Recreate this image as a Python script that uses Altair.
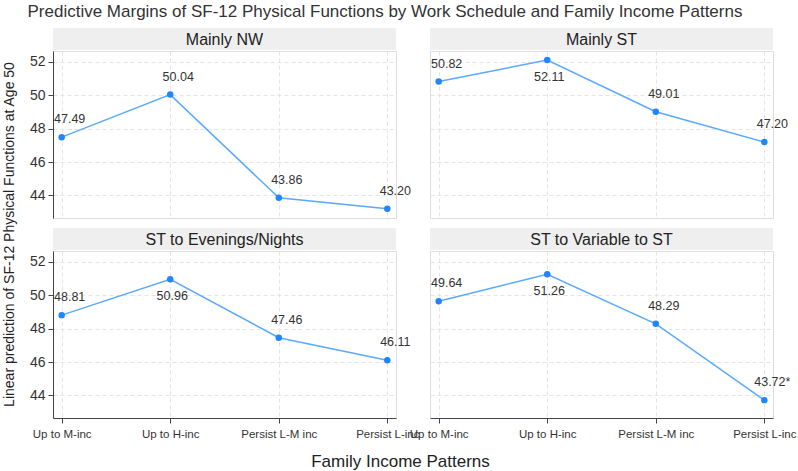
import altair as alt
import pandas as pd

schedules = ["Mainly NW", "Mainly ST", "ST to Evenings/Nights", "ST to Variable to ST"]
categories = ["Up to M-inc", "Up to H-inc", "Persist L-M inc", "Persist L-inc"]
values = {
    "Mainly NW": [47.49, 50.04, 43.86, 43.20],
    "Mainly ST": [50.82, 52.11, 49.01, 47.20],
    "ST to Evenings/Nights": [48.81, 50.96, 47.46, 46.11],
    "ST to Variable to ST": [49.64, 51.26, 48.29, 43.72],
}
significant = {
    "Mainly NW": [False, False, False, False],
    "Mainly ST": [False, False, False, False],
    "ST to Evenings/Nights": [False, False, False, False],
    "ST to Variable to ST": [False, False, False, True],
}
label_side = {
    "Mainly NW": ["above", "above", "above", "above"],
    "Mainly ST": ["above", "below", "above", "above"],
    "ST to Evenings/Nights": ["above", "below", "above", "above"],
    "ST to Variable to ST": ["above", "below", "above", "above"],
}
y_ticks = [44, 46, 48, 50, 52]

rows = []
for s in schedules:
    for i, c in enumerate(categories):
        v = values[s][i]
        rows.append({
            "schedule": s,
            "category": c,
            "value": v,
            "label": f"{v:.2f}" + ("*" if significant[s][i] else ""),
            "side": label_side[s][i],
        })
df = pd.DataFrame(rows)

FONT = "Liberation Sans"
W, H = 343, 167
GRID = dict(grid=True, gridDash=[4, 3], gridColor="#e4e4e4")
AXC = "#444"


def panel(name, show_x, show_y, y_title=False, x_title=False):
    if show_x:
        xa = alt.Axis(title="Family Income Patterns" if x_title else None,
                      titleFontSize=17, titleFontWeight="normal", titleColor="#222",
                      titleX=347, titleY=43, titleBaseline="middle",
                      labelAngle=0, labelFontSize=11.5, labelColor="#333",
                      labelPadding=5, tickSize=5, domainColor=AXC, tickColor=AXC,
                      labelOverlap=False, **GRID)
    else:
        xa = alt.Axis(title=None, labels=False, ticks=False, domain=False, **GRID)
    if show_y:
        ya = alt.Axis(title="Linear prediction of SF-12 Physical Functions at Age 50" if y_title else None,
                      titleFontSize=14, titleFontWeight="normal", titleColor="#222",
                      titleX=-44, titleY=183, titleAngle=-90, titleBaseline="middle",
                      values=y_ticks, labelFontSize=14, labelColor="#333",
                      tickSize=5, labelPadding=3, domainColor=AXC, tickColor=AXC, **GRID)
    else:
        ya = alt.Axis(title=None, labels=False, ticks=False, domain=False,
                      values=y_ticks, **GRID)
    x_enc = alt.X("category:N", sort=categories,
                  scale=alt.Scale(type="point", padding=0.08), axis=xa)
    y_enc = alt.Y("value:Q", scale=alt.Scale(domain=[42.65, 52.65], nice=False, zero=False),
                  axis=ya)
    base = alt.Chart(df).transform_filter(alt.datum.schedule == name)
    first = base.transform_filter(alt.datum.category == categories[0])
    header_rect = first.mark_rect(fill="#efefef").encode(
        x=alt.value(0), x2=alt.value(W), y=alt.value(-23), y2=alt.value(-1))
    header_text = first.mark_text(font=FONT, fontSize=16, color="#222", baseline="middle").encode(
        x=alt.value(W / 2), y=alt.value(-11), text="schedule:N")
    line = base.mark_line(color="#5aa9ff", strokeWidth=1.5).encode(x=x_enc, y=y_enc)
    pts = base.mark_circle(color="#1f86ff", opacity=1, size=42).encode(x=x_enc, y=y_enc)
    lab_above = base.transform_filter(alt.datum.side == "above").mark_text(
        font=FONT, fontSize=12.5, color="#333", dx=8, dy=-18).encode(
        x=x_enc, y=y_enc, text="label:N")
    lab_below = base.transform_filter(alt.datum.side == "below").mark_text(
        font=FONT, fontSize=12.5, color="#333", dx=2, dy=17).encode(
        x=x_enc, y=y_enc, text="label:N")
    return alt.layer(header_rect, header_text, line, pts, lab_above, lab_below).properties(
        width=W, height=H)


chart = alt.concat(
    panel(schedules[0], False, True, y_title=True),
    panel(schedules[1], False, False),
    panel(schedules[2], True, True, x_title=True),
    panel(schedules[3], True, False),
    columns=2, spacing={"row": 33, "column": 34}, bounds="flush",
).properties(
    title=alt.Title("Predictive Margins of SF-12 Physical Functions by Work Schedule and Family Income Patterns",
                    anchor="start", fontSize=17, font=FONT, color="#333",
                    fontWeight="normal", dx=26, offset=7),
).configure_view(stroke=None).configure(
    font=FONT, background="white", padding={"left": 1, "top": 2, "right": 0, "bottom": 0}
).configure_axis(labelFont=FONT, titleFont=FONT)

chart.save("out.html", embed_options={"renderer": "svg", "actions": False})
